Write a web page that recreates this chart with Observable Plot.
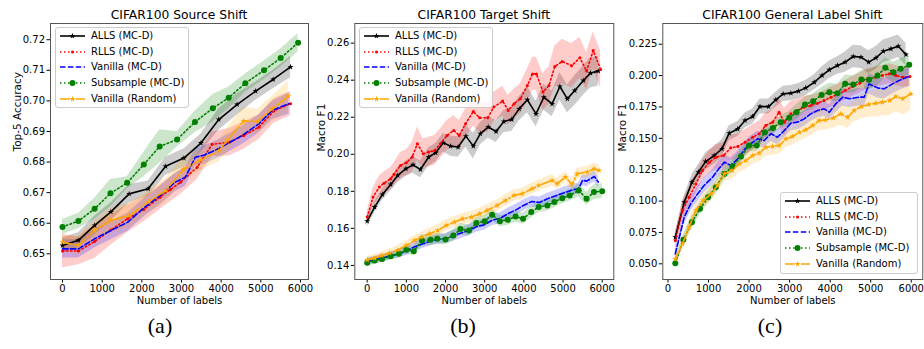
<!DOCTYPE html>
<html><head><meta charset="utf-8">
<script src="https://cdn.jsdelivr.net/npm/d3@7"></script>
<script src="https://cdn.jsdelivr.net/npm/@observablehq/plot@0.6"></script>
<style>
body{margin:0;background:#fff;font-family:"DejaVu Sans",sans-serif;}
#root{position:relative;width:924px;height:349px;overflow:hidden;background:#fff;}
.panel{position:absolute;top:20px;}
.panel svg{overflow:visible;}
.title{position:absolute;top:8px;font-size:12.3px;line-height:14px;white-space:nowrap;transform:translateX(-50%);color:#000;}
.sub{position:absolute;font-family:"Liberation Serif",serif;font-size:22px;line-height:24px;transform:translate(-50%,-50%);color:#000;}
.legend{position:absolute;background:rgba(255,255,255,0.8);border:1px solid #cccccc;border-radius:3px;font-size:10px;color:#000;box-sizing:border-box;}
.legend .row{position:absolute;left:4px;height:12px;white-space:nowrap;}
.legend .row svg{position:absolute;left:0;top:1px;}
.legend .row span{position:absolute;left:31px;top:-1px;line-height:14px;}
</style>
</head><body>
<div id="root"></div>
<script>
// ---------- labels ----------
const seriesNames = ["ALLS (MC-D)", "RLLS (MC-D)", "Vanilla (MC-D)", "Subsample (MC-D)", "Vanilla (Random)"];
const panelTitles = ["CIFAR100 Source Shift", "CIFAR100 Target Shift", "CIFAR100 General Label Shift"];
const yLabels = ["Top-5 Accuracy", "Macro F1", "Macro F1"];
const xLabel = "Number of labels";
const subLabels = ["(a)", "(b)", "(c)"];
const xTicks = [0, 1000, 2000, 3000, 4000, 5000, 6000];
const aYTicks = [0.65, 0.66, 0.67, 0.68, 0.69, 0.70, 0.71, 0.72];
const bYTicks = [0.14, 0.16, 0.18, 0.20, 0.22, 0.24, 0.26];
const cYTicks = [0.050, 0.075, 0.100, 0.125, 0.150, 0.175, 0.200, 0.225];

// ---------- panel (a) ----------
const aAllsX = [0,400,810,1220,1680,2160,2600,3060,3490,3940,4400,4870,5310,5750];
const aAllsY = [0.6527,0.6544,0.6593,0.6637,0.6696,0.6713,0.6786,0.6813,0.6862,0.6939,0.6988,0.7032,0.7070,0.7111];
const aAllsE = [0.0025,0.0025,0.003,0.003,0.003,0.0025,0.003,0.003,0.003,0.0035,0.0035,0.003,0.003,0.0035];
const aRllsX = [0,400,810,1220,1640,2050,2460,2720,2975,3395,3773,4200,4571,4950,5328,5750];
const aRllsY = [0.6509,0.6509,0.6540,0.6578,0.6615,0.6645,0.6685,0.6710,0.6734,0.6783,0.6858,0.6865,0.6887,0.6914,0.6967,0.6991];
const aRllsE = [0.0055,0.0045,0.0055,0.005,0.0045,0.004,0.004,0.004,0.004,0.004,0.004,0.0045,0.0045,0.004,0.004,0.004];
const aVanX = [0,400,810,1220,1640,2050,2460,2840,3100,3350,3560,3940,4530,4950,5290,5710];
const aVanY = [0.6516,0.6516,0.6549,0.6576,0.6603,0.6650,0.6690,0.6734,0.6751,0.6816,0.6822,0.6844,0.6887,0.6925,0.6969,0.6991];
const aVanE = [0.003,0.003,0.003,0.003,0.003,0.003,0.003,0.003,0.003,0.003,0.003,0.003,0.003,0.003,0.003,0.0035];
const aSubX = [0,400,810,1210,1630,2050,2450,2890,3340,3790,4190,4610,5080,5500,5940];
const aSubY = [0.6588,0.6607,0.6647,0.6698,0.6732,0.6792,0.6851,0.6874,0.6931,0.6976,0.7010,0.7058,0.7100,0.7140,0.7190];
const aSubE = [0.0025,0.0025,0.0035,0.0045,0.002,0.004,0.0055,0.0025,0.0035,0.0045,0.0035,0.003,0.003,0.003,0.003];
const aRandX = [0,400,810,1220,1680,2160,2600,3060,3490,3940,4150,4570,4910,5290,5690];
const aRandY = [0.6538,0.6527,0.6576,0.6609,0.6625,0.6669,0.6707,0.6777,0.6807,0.6836,0.6871,0.6934,0.6933,0.6974,0.7015];
const aRandE = [0.002,0.003,0.003,0.004,0.004,0.0035,0.004,0.004,0.0035,0.0035,0.004,0.0045,0.004,0.004,0.005];

// ---------- panel (b) ----------
const bAllsX = [0,190,390,600,780,990,1170,1360,1570,1750,1940,2130,2320,2520,2710,2890,3090,3290,3490,3690,3880,4090,4310,4510,4720,4920,5110,5300,5520,5700,5900];
const bAllsY = [0.1639,0.1715,0.1783,0.1837,0.1886,0.1922,0.1943,0.1918,0.1985,0.2008,0.2062,0.2044,0.2039,0.2098,0.2044,0.2111,0.2147,0.2123,0.2177,0.2188,0.2245,0.2294,0.2218,0.2308,0.2272,0.2366,0.2299,0.2344,0.2398,0.2438,0.2449];
const bAllsE = [0.003,0.003,0.003,0.0035,0.004,0.004,0.0045,0.0045,0.005,0.005,0.005,0.0055,0.0055,0.006,0.007,0.006,0.006,0.006,0.006,0.0065,0.0065,0.007,0.007,0.007,0.007,0.0075,0.0075,0.008,0.008,0.008,0.008];
const bRllsX = [0,150,310,430,600,680,850,1000,1150,1280,1430,1570,1720,1870,2040,2210,2350,2510,2710,2870,3080,3230,3460,3600,3750,3910,4090,4220,4320,4490,4640,4790,4980,5220,5430,5600,5770,5960];
const bRllsY = [0.1661,0.1769,0.1823,0.1844,0.1868,0.1891,0.1940,0.1954,0.1985,0.2057,0.2003,0.2012,0.2021,0.2057,0.2102,0.2129,0.2102,0.2165,0.2231,0.2197,0.2197,0.2255,0.2287,0.2237,0.2273,0.2300,0.2371,0.2434,0.2434,0.2336,0.2371,0.2474,0.2501,0.2478,0.2521,0.2449,0.2560,0.2458];
const bRllsE = [0.003,0.005,0.006,0.006,0.006,0.006,0.007,0.007,0.008,0.009,0.008,0.008,0.008,0.008,0.008,0.008,0.008,0.008,0.008,0.008,0.008,0.008,0.008,0.008,0.008,0.008,0.009,0.009,0.009,0.010,0.010,0.011,0.012,0.012,0.011,0.010,0.010,0.010];
const bVanX = [0,200,400,600,800,1000,1200,1400,1600,1800,2000,2200,2400,2600,2800,3000,3200,3400,3600,3800,4000,4200,4400,4600,4800,5000,5200,5400,5500,5600,5800,5900];
const bVanY = [0.1420,0.1430,0.1440,0.1452,0.1462,0.1478,0.1500,0.1515,0.1530,0.1540,0.1545,0.1560,0.1575,0.1590,0.1610,0.1620,0.1645,0.1655,0.1680,0.1700,0.1725,0.1745,0.1740,0.1760,0.1775,0.1790,0.1805,0.1815,0.1860,0.1855,0.1880,0.1850];
const bVanE = [0.002,0.002,0.002,0.002,0.002,0.0025,0.0025,0.0025,0.0025,0.0025,0.0025,0.003,0.003,0.003,0.003,0.003,0.003,0.003,0.003,0.003,0.003,0.003,0.003,0.003,0.003,0.003,0.003,0.003,0.003,0.003,0.003,0.003];
const bSubX = [0,190,380,600,810,1000,1190,1400,1620,1790,2000,2200,2380,2600,2790,3000,3190,3390,3590,3790,3980,4190,4380,4600,4780,4980,5170,5400,5600,5790,6000];
const bSubY = [0.1414,0.1427,0.1434,0.1449,0.1463,0.1484,0.1477,0.1535,0.1538,0.1544,0.1540,0.1562,0.1596,0.1589,0.1629,0.1639,0.1674,0.1639,0.1646,0.1664,0.1652,0.1688,0.1715,0.1724,0.1742,0.1763,0.1778,0.1805,0.1760,0.1796,0.1801];
const bSubE = [0.002,0.002,0.002,0.002,0.0025,0.0025,0.0025,0.003,0.003,0.003,0.003,0.003,0.003,0.003,0.003,0.003,0.003,0.003,0.003,0.003,0.003,0.003,0.003,0.003,0.003,0.003,0.003,0.0035,0.0035,0.004,0.004];
const bRandX = [0,190,370,570,780,1000,1210,1380,1590,1800,2020,2230,2440,2660,2870,3060,3320,3530,3750,3960,4210,4380,4720,4850,5060,5230,5360,5620,5790,5920];
const bRandY = [0.1430,0.1439,0.1454,0.1467,0.1484,0.1508,0.1535,0.1553,0.1571,0.1589,0.1616,0.1634,0.1652,0.1661,0.1679,0.1697,0.1724,0.1751,0.1778,0.1787,0.1814,0.1832,0.1859,0.1841,0.1877,0.1837,0.1895,0.1904,0.1922,0.1913];
const bRandE = [0.002,0.002,0.002,0.002,0.0025,0.0025,0.0025,0.0025,0.003,0.003,0.003,0.003,0.003,0.003,0.003,0.003,0.003,0.003,0.003,0.003,0.003,0.003,0.003,0.003,0.003,0.003,0.003,0.003,0.003,0.003];

// ---------- panel (c) ----------
const cAllsX = [180,400,590,750,930,1140,1330,1510,1720,1900,2090,2270,2480,2660,2840,3030,3220,3400,3610,3800,3980,4180,4370,4570,4760,4950,5130,5310,5500,5680,5870];
const cAllsY = [0.0712,0.0991,0.1150,0.1230,0.1315,0.1363,0.1416,0.1541,0.1575,0.1642,0.1674,0.1753,0.1753,0.1807,0.1854,0.1860,0.1876,0.1902,0.1947,0.2001,0.2046,0.2080,0.2107,0.2152,0.2147,0.2107,0.2141,0.2194,0.2213,0.2234,0.2168];
const cAllsE = [0.004,0.005,0.006,0.006,0.007,0.007,0.007,0.006,0.006,0.006,0.006,0.006,0.006,0.006,0.006,0.006,0.006,0.006,0.006,0.007,0.007,0.007,0.008,0.009,0.009,0.009,0.009,0.009,0.009,0.009,0.009];
const cRllsX = [180,360,520,690,850,1020,1180,1370,1550,1720,1900,2090,2250,2410,2580,2740,2870,3030,3200,3360,3520,3690,3850,4020,4180,4370,4550,4730,4920,5130,5290,5460,5620,5790,5970];
const cRllsY = [0.0685,0.0925,0.1031,0.1137,0.1243,0.1310,0.1350,0.1363,0.1424,0.1435,0.1469,0.1509,0.1536,0.1602,0.1629,0.1708,0.1629,0.1695,0.1722,0.1748,0.1761,0.1780,0.1801,0.1828,0.1849,0.1881,0.1913,0.1939,0.1974,0.1987,0.2001,0.2014,0.2001,0.1987,0.1993];
const cRllsE = [0.006,0.008,0.008,0.008,0.008,0.009,0.010,0.010,0.010,0.010,0.010,0.010,0.010,0.010,0.010,0.011,0.011,0.010,0.009,0.009,0.008,0.008,0.008,0.008,0.008,0.008,0.008,0.008,0.008,0.008,0.008,0.008,0.008,0.008,0.008];
const cVanX = [180,280,400,560,730,890,1100,1220,1390,1550,1720,1900,2040,2210,2370,2540,2700,2870,3030,3200,3360,3520,3690,3850,3980,4140,4310,4470,4720,4840,4960,5170,5330,5540,5700,5950];
const cVanY = [0.0579,0.0712,0.0871,0.0978,0.1057,0.1124,0.1190,0.1243,0.1310,0.1283,0.1336,0.1416,0.1456,0.1496,0.1482,0.1536,0.1509,0.1562,0.1621,0.1629,0.1655,0.1695,0.1722,0.1735,0.1708,0.1775,0.1828,0.1815,0.1828,0.1828,0.1934,0.1902,0.1894,0.1934,0.1961,0.1993];
const cVanE = [0.004,0.005,0.006,0.006,0.006,0.006,0.006,0.006,0.006,0.006,0.006,0.006,0.006,0.006,0.006,0.006,0.006,0.006,0.006,0.006,0.006,0.006,0.006,0.006,0.006,0.007,0.007,0.007,0.007,0.007,0.008,0.008,0.008,0.008,0.008,0.008];
const cSubX = [180,380,590,790,990,1180,1390,1590,1800,2000,2190,2390,2590,2780,2990,3170,3380,3580,3790,3980,4180,4370,4570,4770,4960,5170,5360,5560,5740,5950];
const cSubY = [0.0505,0.0691,0.0832,0.0938,0.1031,0.1111,0.1217,0.1275,0.1355,0.1443,0.1443,0.1549,0.1583,0.1629,0.1663,0.1708,0.1769,0.1796,0.1846,0.1868,0.1860,0.1934,0.1929,0.1969,0.1966,0.2001,0.2062,0.2027,0.2054,0.2086];
const cSubE = [0.003,0.004,0.005,0.005,0.005,0.005,0.005,0.005,0.005,0.005,0.005,0.005,0.005,0.005,0.005,0.006,0.006,0.006,0.006,0.007,0.007,0.007,0.007,0.007,0.008,0.008,0.008,0.008,0.008,0.008];
const cRandX = [180,360,520,690,870,1060,1220,1390,1580,1760,1920,2090,2250,2410,2580,2740,2910,3070,3240,3400,3570,3730,3890,4080,4260,4430,4590,4770,4950,5130,5290,5470,5620,5790,5990];
const cRandY = [0.0539,0.0659,0.0792,0.0925,0.1004,0.1057,0.1124,0.1217,0.1243,0.1297,0.1323,0.1363,0.1382,0.1429,0.1435,0.1443,0.1496,0.1514,0.1549,0.1568,0.1602,0.1642,0.1647,0.1663,0.1695,0.1668,0.1722,0.1753,0.1769,0.1780,0.1788,0.1801,0.1833,0.1815,0.1854];
const cRandE = [0.004,0.005,0.006,0.006,0.006,0.006,0.006,0.006,0.007,0.007,0.007,0.007,0.007,0.007,0.007,0.007,0.007,0.007,0.007,0.007,0.007,0.008,0.008,0.008,0.009,0.009,0.009,0.010,0.010,0.011,0.011,0.012,0.012,0.013,0.013];

// ---------- styles ----------
const styles = [
  {color: "#000000", dash: null, marker: "star", r: 1.9},
  {color: "#ff0000", dash: "1.5,2.5", marker: "circle", r: 1.5},
  {color: "#0000ff", dash: "5.5,2.4", marker: null, r: 0},
  {color: "#008000", dash: "1.5,2.5", marker: "circle", r: 3},
  {color: "#ffa500", dash: "9.6,2.4,1.5,2.4", marker: "star", r: 1.9}
];

function rows(xs, ys, es) {
  return xs.map((x, i) => ({x, y: ys[i], lo: ys[i] - es[i], hi: ys[i] + es[i]}));
}

const panels = [
  {left: 0, width: 314, ml: 50, mr: 6, xDomain: [-302.5, 6201.7], yDomain: [0.6416, 0.7253], yTicks: aYTicks, fmt: d3.format(".2f"), ylabDx: -33,
   series: [rows(aAllsX, aAllsY, aAllsE), rows(aRllsX, aRllsY, aRllsE), rows(aVanX, aVanY, aVanE), rows(aSubX, aSubY, aSubE), rows(aRandX, aRandY, aRandE)],
   legend: {left: 55, top: 27, width: 134, height: 81}},
  {left: 304, width: 316, ml: 50.3, mr: 6.7, xDomain: [-316, 6296], yDomain: [0.1324, 0.2706], yTicks: bYTicks, fmt: d3.format(".2f"), ylabDx: -33.6,
   series: [rows(bAllsX, bAllsY, bAllsE), rows(bRllsX, bRllsY, bRllsE), rows(bVanX, bVanY, bVanE), rows(bSubX, bSubY, bSubE), rows(bRandX, bRandY, bRandE)],
   legend: {left: 359, top: 27, width: 134, height: 81}},
  {left: 612, width: 311, ml: 50.3, mr: 0.7, xDomain: [-128, 6285], yDomain: [0.0375, 0.2415], yTicks: cYTicks, fmt: d3.format(".3f"), ylabDx: -40.6,
   series: [rows(cAllsX, cAllsY, cAllsE), rows(cRllsX, cRllsY, cRllsE), rows(cVanX, cVanY, cVanE), rows(cSubX, cSubY, cSubE), rows(cRandX, cRandY, cRandE)],
   legend: {left: 780, top: 192, width: 138, height: 82}}
];

const root = document.getElementById("root");

panels.forEach((p, pi) => {
  const marks = [];
  p.series.forEach((data, si) => {
    const s = styles[si];
    marks.push(Plot.areaY(data, {x: "x", y1: "lo", y2: "hi", fill: s.color, fillOpacity: 0.2}));
  });
  p.series.forEach((data, si) => {
    const s = styles[si];
    marks.push(Plot.line(data, {x: "x", y: "y", stroke: s.color, strokeWidth: 1.6, strokeDasharray: s.dash || undefined}));
    if (s.marker) marks.push(Plot.dot(data, {x: "x", y: "y", symbol: s.marker, r: s.r, fill: s.color, stroke: "none"}));
  });
  marks.push(Plot.frame({stroke: "#555", strokeWidth: 1}));
  marks.push(Plot.text([xLabel], {text: d => d, frameAnchor: "bottom", dy: 24, fontSize: 10}));
  marks.push(Plot.text([yLabels[pi]], {text: d => d, frameAnchor: "left", dx: p.ylabDx, rotate: -90, fontSize: 10.5}));

  const chart = Plot.plot({
    width: p.width, height: 290,
    marginLeft: p.ml, marginRight: p.mr, marginTop: 3, marginBottom: 31,
    style: {fontFamily: "DejaVu Sans", fontSize: "10px", color: "#000", background: "transparent", overflow: "visible"},
    x: {domain: p.xDomain, ticks: xTicks, tickFormat: d => String(d), label: null, tickSize: 3.5, tickPadding: 1.5},
    y: {domain: p.yDomain, ticks: p.yTicks, tickFormat: p.fmt, label: null, tickSize: 3.5, tickPadding: 2},
    marks
  });
  const div = document.createElement("div");
  div.className = "panel";
  div.style.left = p.left + "px";
  div.appendChild(chart);
  root.appendChild(div);

  // title
  const frameCenter = p.left + p.ml + (p.width - p.ml - p.mr) / 2;
  const t = document.createElement("div");
  t.className = "title";
  t.style.left = frameCenter + "px";
  t.textContent = panelTitles[pi];
  root.appendChild(t);

  // sub-figure label
  const sl = document.createElement("div");
  sl.className = "sub";
  sl.style.left = [160, 463, 770][pi] + "px";
  sl.style.top = "326px";
  sl.textContent = subLabels[pi];
  root.appendChild(sl);

  // legend
  const lg = document.createElement("div");
  lg.className = "legend";
  lg.style.left = p.legend.left + "px";
  lg.style.top = p.legend.top + "px";
  lg.style.width = p.legend.width + "px";
  lg.style.height = p.legend.height + "px";
  seriesNames.forEach((name, si) => {
    const s = styles[si];
    const row = document.createElement("div");
    row.className = "row";
    row.style.top = (2 + si * 15.7) + "px";
    let m = "";
    if (s.marker === "star") {
      const sym = d3.symbol(d3.symbolStar, Math.PI * s.r * s.r)();
      m = `<path d="${sym}" transform="translate(12.5,5)" fill="${s.color}"/>`;
    } else if (s.marker === "circle") {
      m = `<circle cx="12.5" cy="5" r="${s.r}" fill="${s.color}"/>`;
    }
    row.innerHTML = `<svg width="26" height="10"><line x1="0" y1="5" x2="25" y2="5" stroke="${s.color}" stroke-width="1.6" ${s.dash ? `stroke-dasharray="${s.dash}"` : ""}/>${m}</svg><span>${name}</span>`;
    lg.appendChild(row);
  });
  root.appendChild(lg);
});
</script>
</body></html>
